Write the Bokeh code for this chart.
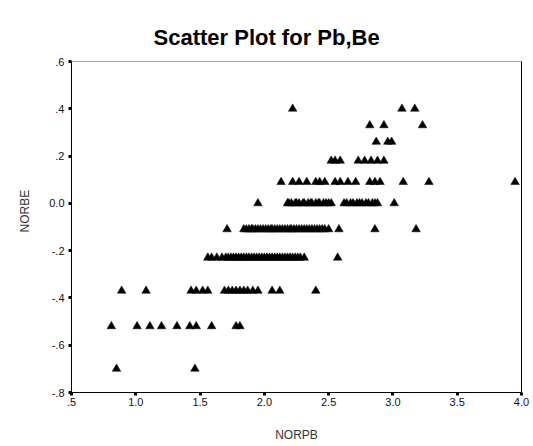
from bokeh.plotting import figure
from bokeh.models import Range1d, FixedTicker, LinearAxis, Title
from bokeh.embed import file_html
from bokeh.resources import INLINE

# --- data ---
be_levels = [0.40, 0.33, 0.26, 0.18, 0.09, 0.00, -0.11, -0.23, -0.37, -0.52, -0.70]

pb_at_040 = [2.22, 3.07, 3.17]
pb_at_033 = [2.82, 2.93, 3.23]
pb_at_026 = [2.87, 2.96, 2.99]
pb_at_018 = [2.52, 2.55, 2.59, 2.73, 2.78, 2.83, 2.88, 2.93]
pb_at_009 = [2.13, 2.22, 2.27, 2.33, 2.40, 2.43, 2.47, 2.55, 2.59, 2.65, 2.71,
             2.82, 2.86, 2.90, 3.08, 3.28, 3.95]
pb_at_000 = [1.95, 2.18, 2.19, 2.21, 2.24, 2.25, 2.27, 2.30, 2.31, 2.34, 2.36,
             2.37, 2.40, 2.42, 2.43, 2.46, 2.48, 2.50, 2.52, 2.62, 2.64, 2.67,
             2.69, 2.72, 2.74, 2.76, 2.79, 2.81, 2.84, 2.86, 2.88, 3.01]
pb_at_m011 = [1.71, 1.84, 1.86, 1.88, 1.90, 1.91, 1.93, 1.95, 1.97, 1.99, 2.01,
              2.03, 2.05, 2.06, 2.08, 2.10, 2.12, 2.14, 2.16, 2.18, 2.20, 2.21,
              2.23, 2.25, 2.27, 2.29, 2.31, 2.33, 2.35, 2.37, 2.39, 2.41, 2.43,
              2.45, 2.47, 2.50, 2.58, 2.86, 3.18]
pb_at_m023 = [1.56, 1.59, 1.63, 1.67, 1.70, 1.72, 1.74, 1.76, 1.78, 1.80, 1.82,
              1.84, 1.86, 1.88, 1.90, 1.92, 1.94, 1.96, 1.98, 2.00, 2.02, 2.04,
              2.06, 2.08, 2.10, 2.12, 2.14, 2.16, 2.18, 2.20, 2.22, 2.24, 2.26,
              2.28, 2.31, 2.57]
pb_at_m037 = [0.89, 1.08, 1.43, 1.47, 1.52, 1.56, 1.69, 1.72, 1.75, 1.78, 1.81,
              1.84, 1.87, 1.91, 1.95, 2.06, 2.12, 2.40]
pb_at_m052 = [0.81, 1.01, 1.11, 1.20, 1.32, 1.42, 1.47, 1.59, 1.78, 1.81]
pb_at_m070 = [0.85, 1.46]

pb_rows = [pb_at_040, pb_at_033, pb_at_026, pb_at_018, pb_at_009, pb_at_000,
           pb_at_m011, pb_at_m023, pb_at_m037, pb_at_m052, pb_at_m070]

x_ticks = [0.5, 1.0, 1.5, 2.0, 2.5, 3.0, 3.5, 4.0]
x_tick_labels = [".5", "1.0", "1.5", "2.0", "2.5", "3.0", "3.5", "4.0"]
y_ticks = [-0.8, -0.6, -0.4, -0.2, 0.0, 0.2, 0.4, 0.6]
y_tick_labels = ["-.8", "-.6", "-.4", "-.2", "0.0", ".2", ".4", ".6"]

title_text = "Scatter Plot for Pb,Be"
x_label = "NORPB"
y_label = "NORBE"

xs, ys = [], []
for lvl, row in zip(be_levels, pb_rows):
    xs.extend(row)
    ys.extend([lvl] * len(row))

FONT = "Liberation Sans"

p = figure(width=533, height=446, output_backend="svg", toolbar_location=None,
           x_range=Range1d(0.5, 4.0), y_range=Range1d(-0.8, 0.6),
           min_border_left=71, min_border_right=12, min_border_top=61,
           min_border_bottom=54)
p.background_fill_color = "white"
p.border_fill_color = "white"
p.xgrid.visible = False
p.ygrid.visible = False
p.outline_line_color = "#a8a8a8"
p.outline_line_width = 1

p.scatter(xs, ys, marker="triangle", size=8.5, fill_color="black",
          line_color="black", line_width=0.5)

for ax, ticks, labels in ((p.xaxis[0], x_ticks, x_tick_labels),
                          (p.yaxis[0], y_ticks, y_tick_labels)):
    ax.ticker = FixedTicker(ticks=ticks)
    ax.major_label_overrides = {t: l for t, l in zip(ticks, labels)}
    ax.minor_tick_line_color = None
    ax.major_tick_in = 0
    ax.major_tick_out = 3
    ax.major_tick_line_width = 3
    ax.major_tick_line_color = "black"
    ax.axis_line_color = "black"
    ax.axis_line_width = 1
    ax.major_label_text_font = FONT
    ax.major_label_text_font_size = "11px"
    ax.major_label_text_color = "#111111"

p.xaxis.major_label_standoff = 2
p.yaxis.major_label_standoff = 4

p.xaxis.axis_label = x_label
p.xaxis.axis_label_text_font = FONT
p.xaxis.axis_label_text_font_size = "12px"
p.xaxis.axis_label_text_font_style = "normal"
p.xaxis.axis_label_text_color = "#333333"
p.xaxis.axis_label_standoff = 19

right = LinearAxis(ticker=FixedTicker(ticks=[]), axis_line_color="black",
                   major_tick_line_color=None, minor_tick_line_color=None,
                   major_label_text_font_size="0px")
p.add_layout(right, "right")

p.title.text = title_text
p.title.text_font = FONT
p.title.text_font_size = "22px"
p.title.text_font_style = "bold"
p.title.text_color = "black"
p.title.align = "left"
p.title.offset = 82
p.title.standoff = 23

ylab = Title(text=y_label, text_font=FONT, text_font_size="12px",
             text_font_style="normal", text_color="#333333", align="left",
             offset=160, standoff=30)
p.add_layout(ylab, "left")

open("out.html", "w").write(file_html(p, INLINE))
